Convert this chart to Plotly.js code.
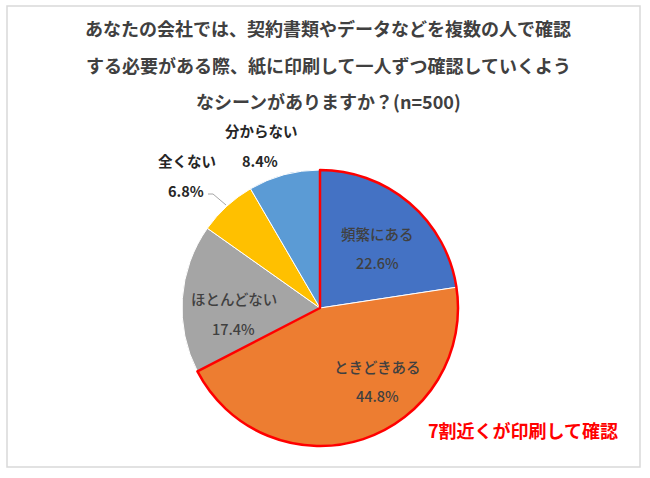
<!DOCTYPE html>
<html>
<head>
<meta charset="utf-8">
<script src="https://cdn.plot.ly/plotly-3.0.1.min.js"></script>
<style>
html,body{margin:0;padding:0;background:#fff;}
#chart{width:650px;height:478px;}
</style>
</head>
<body>
<div id="chart"></div>
<script>
// ---- data ----
const categories = ['頻繁にある', 'ときどきある', 'ほとんどない', '全くない', '分からない'];
const percents = [22.6, 44.8, 17.4, 6.8, 8.4];
const colors = ['#4472C4', '#ED7D31', '#A5A5A5', '#FFC000', '#5B9BD5'];
const titleLines = [
  'あなたの会社では、契約書類やデータなどを複数の人で確認',
  'する必要がある際、紙に印刷して一人ずつ確認していくよう',
  'なシーンがありますか？(n=500)'
];
const calloutText = '7割近くが印刷して確認';
// highlighted group: first two categories
const highlightCount = 2;

// ---- layout helpers ----
const W = 650, H = 478;
const px = x => x / W;
const py = y => 1 - y / H;
const FONT = '"Noto Sans CJK JP", "Noto Sans", sans-serif';

const highlightSum = percents.slice(0, highlightCount).reduce((a, b) => a + b, 0);
const restSum = percents.slice(highlightCount).reduce((a, b) => a + b, 0);

const domain = {x: [182 / W, 458 / W], y: [1 - 446 / H, 1 - 170 / H]};

const traces = [
  {
    type: 'pie',
    labels: categories,
    values: percents,
    sort: false,
    direction: 'clockwise',
    rotation: 0,
    textinfo: 'none',
    hoverinfo: 'label+percent',
    marker: {colors: colors, line: {color: '#FFFFFF', width: 1}},
    domain: domain,
    showlegend: false
  },
  {
    type: 'pie',
    labels: ['highlight', 'rest'],
    values: [highlightSum, restSum],
    sort: false,
    direction: 'clockwise',
    rotation: 0,
    textinfo: 'none',
    hoverinfo: 'skip',
    marker: {
      colors: ['rgba(0,0,0,0)', 'rgba(0,0,0,0)'],
      line: {color: ['#FF0000', 'rgba(0,0,0,0)'], width: 2.5}
    },
    domain: domain,
    showlegend: false
  }
];

// label positions (pixel centers) for name and value lines
const labelPos = [
  {name: [377, 233], val: [377, 262], inside: true},
  {name: [377, 366], val: [377, 395], inside: true},
  {name: [234, 298], val: [233, 328], inside: true},
  {name: [187, 160], val: [186, 190], inside: false},
  {name: [261, 130], val: [260, 160], inside: false}
];

const annotations = [];
titleLines.forEach((t, i) => {
  annotations.push({
    text: t, xref: 'paper', yref: 'paper',
    x: px(328), y: py([28, 65, 101][i]), xanchor: 'center', yanchor: 'middle',
    showarrow: false,
    font: {family: FONT, size: 18, color: '#404040', weight: 'bold'}
  });
});
categories.forEach((c, i) => {
  const p = labelPos[i];
  const f = p.inside
    ? {family: FONT, size: 14.5, color: '#404040', weight: 500}
    : {family: FONT, size: 14.5, color: '#262626', weight: 'bold'};
  annotations.push({
    text: c, xref: 'paper', yref: 'paper', x: px(p.name[0]), y: py(p.name[1]),
    xanchor: 'center', yanchor: 'middle', showarrow: false, font: f
  });
  annotations.push({
    text: percents[i].toFixed(1) + '%', xref: 'paper', yref: 'paper',
    x: px(p.val[0]), y: py(p.val[1]),
    xanchor: 'center', yanchor: 'middle', showarrow: false, font: f
  });
});
annotations.push({
  text: calloutText, xref: 'paper', yref: 'paper', x: px(523), y: py(430),
  xanchor: 'center', yanchor: 'middle', showarrow: false,
  font: {family: FONT, size: 18, color: '#FF0000', weight: 'bold'}
});

const shapes = [
  {type: 'rect', xref: 'paper', yref: 'paper', x0: px(7), x1: px(640), y0: py(467), y1: py(6),
   line: {color: '#D9D9D9', width: 1.5}, fillcolor: 'rgba(0,0,0,0)'},
  {type: 'line', xref: 'paper', yref: 'paper', x0: px(208), y0: py(194), x1: px(213), y1: py(194),
   line: {color: '#A6A6A6', width: 1}},
  {type: 'line', xref: 'paper', yref: 'paper', x0: px(213), y0: py(194), x1: px(226), y1: py(205),
   line: {color: '#A6A6A6', width: 1}}
];

const layout = {
  width: W, height: H,
  margin: {l: 0, r: 0, t: 0, b: 0},
  paper_bgcolor: '#FFFFFF',
  plot_bgcolor: '#FFFFFF',
  showlegend: false,
  annotations: annotations,
  shapes: shapes,
  font: {family: FONT}
};

Plotly.newPlot('chart', traces, layout, {displayModeBar: false, staticPlot: true});
</script>
</body>
</html>
